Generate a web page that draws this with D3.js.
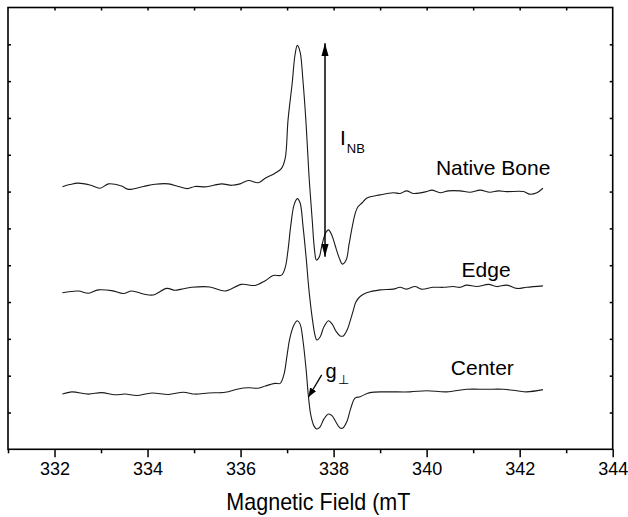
<!DOCTYPE html>
<html>
<head>
<meta charset="utf-8">
<script src="https://cdn.jsdelivr.net/npm/d3@7"></script>
<style>
    html, body { margin: 0; padding: 0; background: #fff; }
    svg { display: block; font-family: "Liberation Sans", Arial, sans-serif; }
</style>
</head>
<body>
<div id="chart"></div>
<script>
// EPR spectra, [field (mT), intensity (a.u., offset per sample)]
const nativeBone = [
    [332.17, 7.13], [332.33, 7.19], [332.50, 7.23], [332.76, 7.18], [332.98, 7.09], [333.16, 7.21],
    [333.44, 7.15], [333.59, 7.06], [333.91, 7.14], [334.16, 7.20], [334.45, 7.21], [334.66, 7.14],
    [334.86, 7.08], [335.02, 7.14], [335.27, 7.13], [335.59, 7.21], [335.81, 7.17], [335.99, 7.21],
    [336.17, 7.30], [336.38, 7.24], [336.53, 7.36], [336.74, 7.50], [336.88, 7.63], [336.96, 7.91],
    [337.02, 8.94], [337.11, 9.95], [337.17, 10.71], [337.22, 10.97], [337.28, 10.79], [337.34, 10.03],
    [337.41, 8.81], [337.47, 7.45], [337.54, 6.23], [337.59, 5.41], [337.63, 5.14], [337.69, 5.22],
    [337.75, 5.55], [337.83, 5.88], [337.89, 5.96], [337.96, 5.82], [338.03, 5.55], [338.12, 5.20],
    [338.19, 5.03], [338.27, 5.14], [338.33, 5.55], [338.40, 6.04], [338.46, 6.39], [338.52, 6.58],
    [338.61, 6.69], [338.71, 6.82], [339.00, 6.91], [339.28, 6.97], [339.43, 6.95], [339.57, 7.02],
    [339.71, 6.95], [340.00, 7.00], [340.11, 7.04], [340.29, 6.97], [340.47, 7.02], [340.72, 7.02],
    [340.93, 6.98], [341.15, 7.04], [341.36, 6.98], [341.54, 7.02], [341.72, 7.00], [342.08, 7.00],
    [342.22, 6.93], [342.37, 6.97], [342.50, 7.09]
];

const edge = [
    [332.17, 4.25], [332.51, 4.30], [332.73, 4.24], [332.94, 4.33], [333.23, 4.31], [333.48, 4.23],
    [333.66, 4.30], [333.91, 4.22], [334.12, 4.19], [334.41, 4.37], [334.59, 4.32], [334.73, 4.35],
    [334.95, 4.40], [335.34, 4.41], [335.67, 4.30], [336.02, 4.48], [336.31, 4.45], [336.53, 4.58],
    [336.70, 4.72], [336.88, 4.73], [336.96, 4.94], [337.02, 5.41], [337.08, 6.09], [337.15, 6.64],
    [337.22, 6.81], [337.28, 6.69], [337.34, 6.09], [337.41, 5.20], [337.47, 4.33], [337.54, 3.57],
    [337.60, 3.10], [337.64, 2.97], [337.71, 3.05], [337.79, 3.32], [337.89, 3.49], [337.97, 3.40],
    [338.05, 3.21], [338.14, 3.08], [338.21, 3.08], [338.29, 3.24], [338.35, 3.46], [338.42, 3.76],
    [338.48, 4.00], [338.57, 4.15], [338.71, 4.25], [339.00, 4.33], [339.28, 4.35], [339.43, 4.40],
    [339.57, 4.35], [339.75, 4.42], [339.89, 4.35], [340.14, 4.40], [340.36, 4.40], [340.57, 4.42],
    [340.72, 4.40], [340.86, 4.46], [341.08, 4.42], [341.33, 4.48], [341.51, 4.42], [341.72, 4.46],
    [341.94, 4.37], [342.15, 4.40], [342.50, 4.44]
];

const center = [
    [332.17, 1.50], [332.37, 1.56], [332.73, 1.50], [333.01, 1.54], [333.30, 1.48], [333.52, 1.50],
    [333.77, 1.46], [334.09, 1.53], [334.45, 1.49], [334.77, 1.55], [335.02, 1.50], [335.31, 1.53],
    [335.67, 1.55], [335.95, 1.64], [336.17, 1.67], [336.38, 1.66], [336.53, 1.72], [336.74, 1.79],
    [336.85, 1.79], [336.93, 2.02], [337.00, 2.56], [337.06, 3.02], [337.15, 3.38], [337.22, 3.49],
    [337.28, 3.40], [337.34, 2.97], [337.41, 2.15], [337.46, 1.42], [337.51, 0.93], [337.58, 0.63],
    [337.64, 0.55], [337.71, 0.61], [337.79, 0.82], [337.89, 0.96], [337.97, 0.91], [338.05, 0.74],
    [338.14, 0.58], [338.20, 0.58], [338.29, 0.77], [338.37, 1.12], [338.46, 1.39], [338.57, 1.43],
    [338.78, 1.54], [339.14, 1.56], [339.64, 1.56], [340.00, 1.59], [340.43, 1.56], [340.86, 1.63],
    [341.29, 1.63], [341.65, 1.63], [341.94, 1.59], [342.15, 1.56], [342.50, 1.62]
];

const majorTicks = [332, 334, 336, 338, 340, 342, 344];
const minorTicks = [331, 333, 335, 337, 339, 341, 343];
const topTicks = [332, 333, 334, 335, 336, 337, 338, 339, 340, 341, 342, 343];
const yTicks = [1, 2, 3, 4, 5, 6, 7, 8, 9, 10, 11];

const curveLabels = [
    ["Native Bone", 340.20, 7.45],
    ["Edge", 340.75, 4.69],
    ["Center", 340.52, 2.02]
];
const intensityArrow = [[337.815, 11.03], [337.815, 5.23]];
const gArrow = [[337.744, 2.02], [337.46, 1.42]];
const intensityLabel = [338.137, 8.27];
const gLabel = [337.826, 1.94];

document.addEventListener("DOMContentLoaded", function () {
    createSpectraChart("chart");
});

function createSpectraChart(elementId) {
    const width = 628;
    const height = 517;
    const margin = { top: 7.5, right: 15.3, bottom: 67.7, left: 8 };
    const chartWidth = width - margin.left - margin.right;
    const chartHeight = height - margin.top - margin.bottom;

    const svg = d3.select(`#${elementId}`).append("svg")
        .attr("width", width)
        .attr("height", height);

    const defs = svg.append("defs");
    defs.append("marker")
        .attr("id", "head-big")
        .attr("viewBox", "-13 -4 13 8")
        .attr("refX", 0).attr("refY", 0)
        .attr("markerWidth", 13).attr("markerHeight", 8)
        .attr("markerUnits", "userSpaceOnUse")
        .attr("orient", "auto-start-reverse")
        .append("path").attr("d", "M0,0L-13,-3.6L-13,3.6Z").attr("fill", "#000");
    defs.append("marker")
        .attr("id", "head-small")
        .attr("viewBox", "-9 -4 9 8")
        .attr("refX", 0).attr("refY", 0)
        .attr("markerWidth", 9).attr("markerHeight", 8)
        .attr("markerUnits", "userSpaceOnUse")
        .attr("orient", "auto")
        .append("path").attr("d", "M0,0L-9,-3.5L-9,3.5Z").attr("fill", "#000");

    const x = d3.scaleLinear().domain([331, 344]).range([0, chartWidth]);
    const y = d3.scaleLinear().domain([0, 12]).range([chartHeight, 0]);

    const chartArea = svg.append("g")
        .attr("transform", `translate(${margin.left}, ${margin.top})`);

    // axes: bottom major/minor outward, the other three sides short inward ticks
    const bottomMajor = chartArea.append("g")
        .attr("transform", `translate(0, ${chartHeight})`)
        .call(d3.axisBottom(x).tickValues(majorTicks).tickSize(8).tickPadding(5).tickFormat(d3.format("d")));
    bottomMajor.selectAll("text")
        .style("font-size", "18px")
        .style("font-family", "'Liberation Sans', Arial, sans-serif")
        .attr("fill", "#000");

    chartArea.append("g")
        .attr("transform", `translate(0, ${chartHeight})`)
        .call(d3.axisBottom(x).tickValues(minorTicks).tickSize(4).tickFormat(""));

    chartArea.append("g")
        .call(d3.axisTop(x).tickValues(topTicks).tickSize(-3).tickFormat(""));
    chartArea.append("g")
        .call(d3.axisLeft(y).tickValues(yTicks).tickSize(-3).tickFormat(""));
    chartArea.append("g")
        .attr("transform", `translate(${chartWidth}, 0)`)
        .call(d3.axisRight(y).tickValues(yTicks).tickSize(-3).tickFormat(""));

    chartArea.selectAll(".domain").remove();
    chartArea.selectAll(".tick line").attr("stroke", "#000").attr("stroke-width", 1.5);

    chartArea.append("rect")
        .attr("width", chartWidth)
        .attr("height", chartHeight)
        .attr("fill", "none")
        .attr("stroke", "#000")
        .attr("stroke-width", 1.6);

    const line = d3.line()
        .x(d => x(d[0]))
        .y(d => y(d[1]))
        .curve(d3.curveCatmullRom.alpha(0.5));

    chartArea.append("g")
        .selectAll("path")
        .data([nativeBone, edge, center])
        .enter().append("path")
        .attr("d", line)
        .attr("fill", "none")
        .attr("stroke", "#1a1a1a")
        .attr("stroke-width", 1.1);

    chartArea.append("g")
        .selectAll("text")
        .data(curveLabels)
        .enter().append("text")
        .attr("x", d => x(d[1]))
        .attr("y", d => y(d[2]))
        .style("font-size", "21px")
        .attr("fill", "#000")
        .text(d => d[0]);

    // I_NB double arrow
    chartArea.append("line")
        .attr("x1", x(intensityArrow[0][0])).attr("y1", y(intensityArrow[0][1]))
        .attr("x2", x(intensityArrow[1][0])).attr("y2", y(intensityArrow[1][1]))
        .attr("stroke", "#000")
        .attr("stroke-width", 1.5)
        .attr("marker-start", "url(#head-big)")
        .attr("marker-end", "url(#head-big)");

    const iText = chartArea.append("text")
        .attr("x", x(intensityLabel[0]))
        .attr("y", y(intensityLabel[1]))
        .style("font-size", "21px")
        .attr("fill", "#000")
        .text("I");
    iText.append("tspan")
        .attr("dx", 1)
        .attr("dy", 8)
        .style("font-size", "13px")
        .text("NB");

    // g-perpendicular pointer
    chartArea.append("line")
        .attr("x1", x(gArrow[0][0])).attr("y1", y(gArrow[0][1]))
        .attr("x2", x(gArrow[1][0])).attr("y2", y(gArrow[1][1]))
        .attr("stroke", "#000")
        .attr("stroke-width", 1.3)
        .attr("marker-end", "url(#head-small)");

    const gText = chartArea.append("text")
        .attr("x", x(gLabel[0]))
        .attr("y", y(gLabel[1]))
        .style("font-size", "20px")
        .attr("fill", "#000")
        .text("g");
    gText.append("tspan")
        .attr("dx", 1)
        .attr("dy", 6)
        .style("font-size", "13px")
        .text("\u22A5");

    svg.append("text")
        .attr("x", margin.left + chartWidth / 2 + 8)
        .attr("y", 510)
        .attr("text-anchor", "middle")
        .attr("textLength", 184)
        .attr("lengthAdjust", "spacingAndGlyphs")
        .style("font-family", "'Liberation Sans Narrow', 'Liberation Sans', Arial, sans-serif")
        .style("font-size", "24px")
        .attr("fill", "#000")
        .text("Magnetic Field (mT");
}
</script>
</body>
</html>
